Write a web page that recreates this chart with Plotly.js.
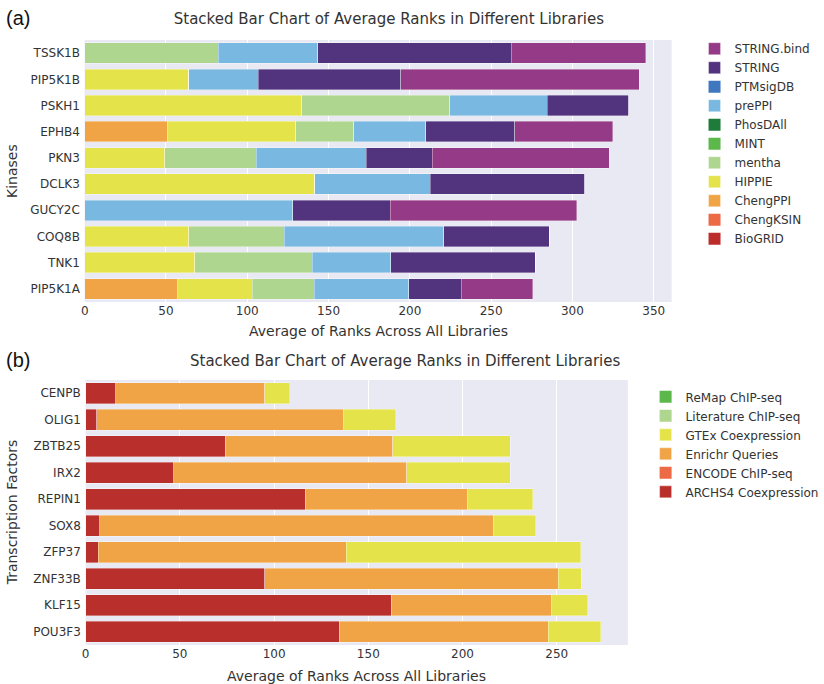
<!DOCTYPE html>
<html>
<head>
<meta charset="utf-8">
<script src="https://cdn.plot.ly/plotly-3.0.1.min.js"></script>
<style>html,body{margin:0;padding:0;background:#fff;}#chart{width:824px;height:684px;}</style>
</head>
<body>
<div id="chart"></div>
<script>
// ---- Panel (a): kinases ----
const kinases = ["TSSK1B","PIP5K1B","PSKH1","EPHB4","PKN3","DCLK3","GUCY2C","COQ8B","TNK1","PIP5K1A"];
const kinaseLibraries = ["BioGRID","ChengKSIN","ChengPPI","HIPPIE","mentha","MINT","PhosDAll","prePPI","PTMsigDB","STRING","STRING.bind"];
const kBioGRID    = [0,0,0,0,0,0,0,0,0,0];
const kChengKSIN  = [0,0,0,0,0,0,0,0,0,0];
const kChengPPI   = [0,0,0,50.7,0,0,0,0,0,57.2];
const kHIPPIE     = [0,64.1,133.5,79.2,49.1,141.5,0,64.1,67.7,46.0];
const kMentha     = [82.0,0,90.9,35.6,56.5,0,0,58.7,72.4,37.9];
const kMINT       = [0,0,0,0,0,0,0,0,0,0];
const kPhosDAll   = [0,0,0,0,0,0,0,0,0,0];
const kPrePPI     = [61.5,42.5,60.2,44.4,67.5,70.9,128.1,98.2,48.3,58.3];
const kPTMsigDB   = [0,0,0,0,0,0,0,0,0,0];
const kSTRING     = [118.8,87.8,49.9,54.6,40.7,95.2,59.9,64.8,88.8,32.3];
const kSTRINGbind = [82.7,146.7,0,60.2,109.0,0,114.6,0,0,43.9];
const kinaseSeries = [kBioGRID,kChengKSIN,kChengPPI,kHIPPIE,kMentha,kMINT,kPhosDAll,kPrePPI,kPTMsigDB,kSTRING,kSTRINGbind];
const kinaseColors = ["#bb2d2b","#ec6a46","#f0a446","#e5e34a","#afd68f","#5cb84a","#1e7b3a","#79b8e0","#3f78bf","#52337e","#953a86"];

// ---- Panel (b): transcription factors ----
const tfs = ["CENPB","OLIG1","ZBTB25","IRX2","REPIN1","SOX8","ZFP37","ZNF33B","KLF15","POU3F3"];
const tfLibraries = ["ARCHS4 Coexpression","ENCODE ChIP-seq","Enrichr Queries","GTEx Coexpression","Literature ChIP-seq","ReMap ChIP-seq"];
const tARCHS4     = [16.0,5.8,74.0,46.8,116.4,7.4,6.6,95.0,162.2,134.5];
const tENCODE     = [0,0,0,0,0,0,0,0,0,0];
const tEnrichr    = [79.0,131.2,88.9,123.5,86.1,208.8,131.7,155.7,85.2,111.1];
const tGTEx       = [13.3,27.6,62.5,55.1,34.7,22.6,124.5,12.4,19.1,27.8];
const tLiterature = [0,0,0,0,0,0,0,0,0,0];
const tReMap      = [0,0,0,0,0,0,0,0,0,0];
const tfSeries = [tARCHS4,tENCODE,tEnrichr,tGTEx,tLiterature,tReMap];
const tfColors = ["#b92f2b","#ec6a46","#f0a446","#e5e34a","#afd68f","#5cb84a"];

const traces = [];
kinaseSeries.forEach((vals, i) => {
  const nonzero = vals.some(v => v > 0);
  traces.push({
    type: "bar", orientation: "h", name: kinaseLibraries[i],
    x: vals, y: kinases, xaxis: "x", yaxis: "y", legend: "legend",
    marker: {color: kinaseColors[i], line: {color: "rgba(255,255,255,0.6)", width: nonzero ? 0.6 : 0}},
    hoverinfo: "x+y+name"
  });
});
tfSeries.forEach((vals, i) => {
  const nonzero = vals.some(v => v > 0);
  traces.push({
    type: "bar", orientation: "h", name: tfLibraries[i],
    x: vals, y: tfs, xaxis: "x2", yaxis: "y2", legend: "legend2",
    marker: {color: tfColors[i], line: {color: "rgba(255,255,255,0.6)", width: nonzero ? 0.6 : 0}},
    hoverinfo: "x+y+name"
  });
});

const FONT = "DejaVu Sans, Verdana, sans-serif";
const tickFont = {family: FONT, size: 12, color: "#333"};
const axisCommon = {
  showgrid: true, gridcolor: "#ffffff", gridwidth: 1, zeroline: false,
  showline: false, ticks: "", tickfont: tickFont, automargin: false
};

const layout = {
  width: 824, height: 684,
  margin: {l: 0, r: 0, t: 0, b: 0},
  paper_bgcolor: "#ffffff",
  plot_bgcolor: "#e8e9f2",
  barmode: "stack",
  bargap: 0.22,
  font: {family: FONT, color: "#333"},
  showlegend: true,
  title: {
    text: "Stacked Bar Chart of Average Ranks in Different Libraries",
    font: {family: FONT, size: 15, color: "#333"},
    x: 0.472, xanchor: "center", y: 0.972, yanchor: "middle"
  },
  xaxis: Object.assign({}, axisCommon, {domain: [0.1056, 0.8374], range: [0, 361], anchor: "y", tickvals: [0,50,100,150,200,250,300,350]}),
  yaxis: Object.assign({}, axisCommon, {domain: [0.5585, 0.9415], anchor: "x", autorange: "reversed", showgrid: false, ticksuffix: " "}),
  xaxis2: Object.assign({}, axisCommon, {domain: [0.1068, 0.7828], range: [0, 287.7], anchor: "y2", tickvals: [0,50,100,150,200,250]}),
  yaxis2: Object.assign({}, axisCommon, {domain: [0.057, 0.4444], anchor: "x2", autorange: "reversed", showgrid: false, ticksuffix: " "}),
  legend: {
    x: 0.866, y: 0.95, xanchor: "left", yanchor: "top",
    traceorder: "reversed", bgcolor: "rgba(0,0,0,0)",
    font: {family: FONT, size: 12, color: "#333"},
    itemwidth: 30, tracegroupgap: 0
  },
  legend2: {
    x: 0.805, y: 0.441, xanchor: "left", yanchor: "top",
    traceorder: "reversed", bgcolor: "rgba(0,0,0,0)",
    font: {family: FONT, size: 12, color: "#333"},
    itemwidth: 30, tracegroupgap: 0
  },
  annotations: [
    {text: "(a)", xref: "paper", yref: "paper", x: 0.005, y: 0.974, xanchor: "left", yanchor: "middle", showarrow: false,
     font: {family: "Liberation Sans, Arial, sans-serif", size: 20, color: "#111"}},
    {text: "(b)", xref: "paper", yref: "paper", x: 0.005, y: 0.474, xanchor: "left", yanchor: "middle", showarrow: false,
     font: {family: "Liberation Sans, Arial, sans-serif", size: 20, color: "#111"}},
    {text: "Stacked Bar Chart of Average Ranks in Different Libraries", xref: "paper", yref: "paper", x: 0.505, y: 0.472,
     xanchor: "center", yanchor: "middle", showarrow: false, font: {family: FONT, size: 15, color: "#333"}},
    {text: "Average of Ranks Across All Libraries", xref: "paper", yref: "paper", x: 0.4715, y: 0.516,
     xanchor: "center", yanchor: "middle", showarrow: false, font: {family: FONT, size: 14, color: "#333"}},
    {text: "Average of Ranks Across All Libraries", xref: "paper", yref: "paper", x: 0.4448, y: 0.011,
     xanchor: "center", yanchor: "middle", showarrow: false, font: {family: FONT, size: 14, color: "#333"}},
    {text: "Kinases", xref: "paper", yref: "paper", x: 0.015, y: 0.75, textangle: -90,
     xanchor: "center", yanchor: "middle", showarrow: false, font: {family: FONT, size: 14, color: "#333"}},
    {text: "Transcription Factors", xref: "paper", yref: "paper", x: 0.015, y: 0.251, textangle: -90,
     xanchor: "center", yanchor: "middle", showarrow: false, font: {family: FONT, size: 14, color: "#333"}}
  ]
};

Plotly.newPlot("chart", traces, layout, {displayModeBar: false, staticPlot: true});
</script>
</body>
</html>
